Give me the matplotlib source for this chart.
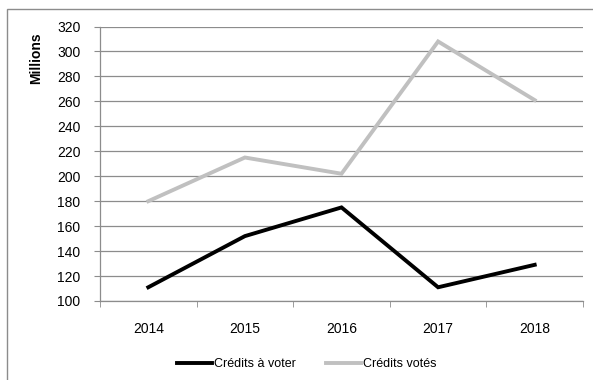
import matplotlib
matplotlib.use("Agg")
import matplotlib.pyplot as plt
from matplotlib.patches import Rectangle

plt.rcParams['font.family'] = ['Liberation Sans', 'DejaVu Sans']

years = ["2014", "2015", "2016", "2017", "2018"]
credits_a_voter = [111, 152, 175, 111, 129]
credits_votes = [180, 215, 202, 308, 261]

W, H = 593, 380
fig = plt.figure(figsize=(W / 100, H / 100), dpi=100)
ax = fig.add_axes([100 / W, 1 - 301 / H, 483 / W, 274.5 / H])

# outer chart frame, cut off at right and bottom like the reference
fig.patches.append(Rectangle((7 / W, -0.1), 1.2, 1 - 9 / H + 0.1,
                             transform=fig.transFigure, fill=False,
                             edgecolor="#8c8c8c", linewidth=1.0))

x = range(len(years))
ax.plot(x, credits_a_voter, color="black", linewidth=2.8,
        label="Crédits à voter", solid_joinstyle="miter")
ax.plot(x, credits_votes, color="#c0c0c0", linewidth=2.8,
        label="Crédits votés", solid_joinstyle="miter")

ax.set_xlim(-0.5, len(years) - 0.5)
ax.set_ylim(100, 320)
ax.set_yticks(range(100, 321, 20))
ax.set_xticks(list(x))
ax.set_xticklabels(years)
ax.set_xticks([i - 0.5 for i in range(len(years) + 1)], minor=True)

ax.grid(axis="y", color="#8c8c8c", linewidth=0.9)
ax.set_axisbelow(True)
for side in ["top", "right"]:
    ax.spines[side].set_visible(False)
for side in ["left", "bottom"]:
    ax.spines[side].set_color("#8c8c8c")
    ax.spines[side].set_linewidth(0.9)

ax.tick_params(axis="y", length=4, color="#8c8c8c", labelsize=10, pad=10)
ax.tick_params(axis="x", which="major", length=0, labelsize=10, pad=15)
ax.tick_params(axis="x", which="minor", length=4, color="#8c8c8c")

fig.text(36 / W, 1 - 58 / H, "Millions", rotation=90, fontsize=10,
         fontweight="bold", ha="center", va="center")

fig.legend(loc="center", bbox_to_anchor=(307 / W, 1 - 364 / H), ncol=2,
           frameon=False, fontsize=9, handlelength=2.8, handletextpad=0.15,
           columnspacing=2.4)

fig.savefig("out.png", dpi=100)
